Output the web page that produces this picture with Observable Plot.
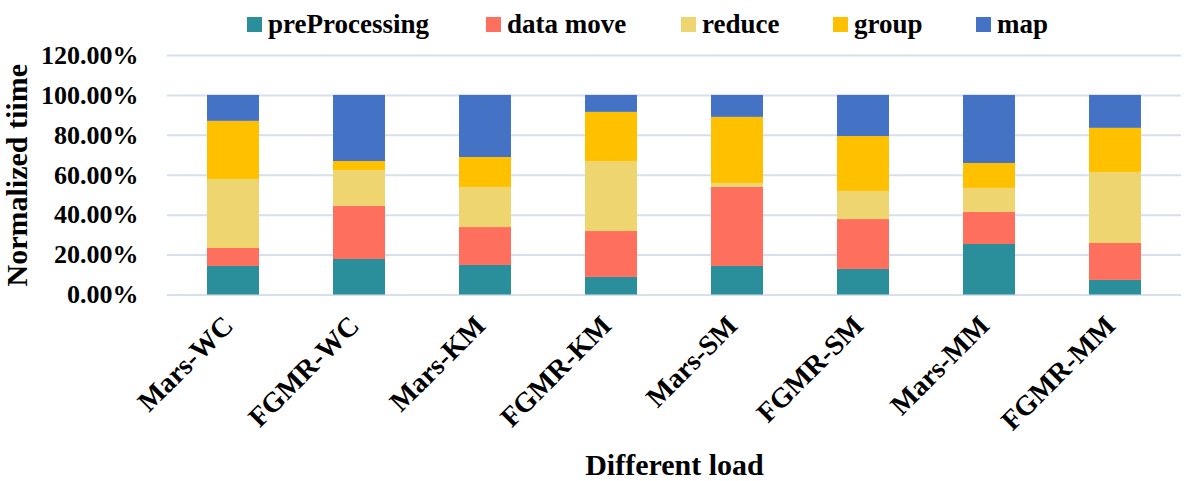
<!DOCTYPE html>
<html>
<head>
<meta charset="utf-8">
<script src="https://cdn.jsdelivr.net/npm/d3@7"></script>
<script src="https://cdn.jsdelivr.net/npm/@observablehq/plot@0.6"></script>
<style>
  body { margin: 0; background: #fff; }
  #wrap { width: 1185px; height: 481px; position: relative; }
  #legend { height: 45px; position: relative; }
  .item { position: absolute; top: 8px; height: 32px; display: flex; align-items: center; font-family: "Liberation Serif", "Times New Roman", serif; font-weight: bold; font-size: 27px; color: #000; white-space: nowrap; }
  .sw { width: 15px; height: 15px; margin-right: 6px; display: inline-block; }
</style>
</head>
<body>
<div id="wrap">
  <div id="legend"></div>
  <div id="chart"></div>
</div>
<script>
const loads = ["Mars-WC", "FGMR-WC", "Mars-KM", "FGMR-KM", "Mars-SM", "FGMR-SM", "Mars-MM", "FGMR-MM"];
const series = ["preProcessing", "data move", "reduce", "group", "map"];
const colors = ["#2a8f9b", "#fe6f5e", "#efd56f", "#ffc000", "#4472c4"];
const preProcessing = [14.3, 17.8, 14.8, 8.8, 14.3, 12.8, 25.3, 7.3];
const dataMove      = [9.0, 26.6, 19.0, 23.0, 39.6, 25.0, 16.1, 18.5];
const reduce        = [34.6, 18.0, 20.1, 35.1, 2.0, 14.1, 12.0, 35.6];
const group         = [29.1, 4.5, 15.0, 24.6, 33.1, 27.5, 12.5, 22.1];
const map           = [13.0, 33.1, 31.1, 8.5, 11.0, 20.6, 34.1, 16.5];
const yTicks = [0, 20, 40, 60, 80, 100, 120];
const legendX = [247, 486, 681, 833, 976];

const cols = [preProcessing, dataMove, reduce, group, map];
const data = [];
loads.forEach((l, i) => series.forEach((s, j) => data.push({load: l, series: s, value: cols[j][i]})));

const legend = document.getElementById("legend");
series.forEach((s, j) => {
  const d = document.createElement("div");
  d.className = "item";
  d.style.left = legendX[j] + "px";
  d.innerHTML = `<span class="sw" style="background:${colors[j]}"></span><span>${s}</span>`;
  legend.appendChild(d);
});

const chart = Plot.plot({
  width: 1185,
  height: 436,
  marginTop: 10,
  marginLeft: 167,
  marginRight: 4,
  marginBottom: 186.5,
  style: {fontFamily: "Liberation Serif, Times New Roman, serif", fontWeight: "bold", fontSize: "26px", color: "#000", background: "#fff", overflow: "visible"},
  x: {domain: loads, paddingInner: 0.59, paddingOuter: 0.295},
  y: {domain: [0, 120]},
  color: {domain: series, range: colors},
  marks: [
    Plot.gridY(yTicks, {stroke: "#d5e0ec", strokeOpacity: 1, strokeWidth: 2}),
    Plot.barY(data, Plot.stackY({order: series, x: "load", y: "value", fill: "series"})),
    Plot.axisY({ticks: yTicks, tickFormat: d => d.toFixed(2) + "%", tickSize: 0, tickPadding: 29, fontSize: 26,
      label: "Normalized tiime", labelAnchor: "center", labelArrow: "none", labelOffset: 162}),
    Plot.axisX({tickSize: 0, tickRotate: -45, tickPadding: 10, fontSize: 28, dx: -5, dy: 16,
      label: "Different load", labelAnchor: "center", labelArrow: "none", labelOffset: 180})
  ]
});
chart.querySelectorAll("[aria-label='y-axis label'] text, [aria-label='x-axis label'] text").forEach(t => t.style.fontSize = "30px");
document.getElementById("chart").appendChild(chart);
</script>
</body>
</html>
